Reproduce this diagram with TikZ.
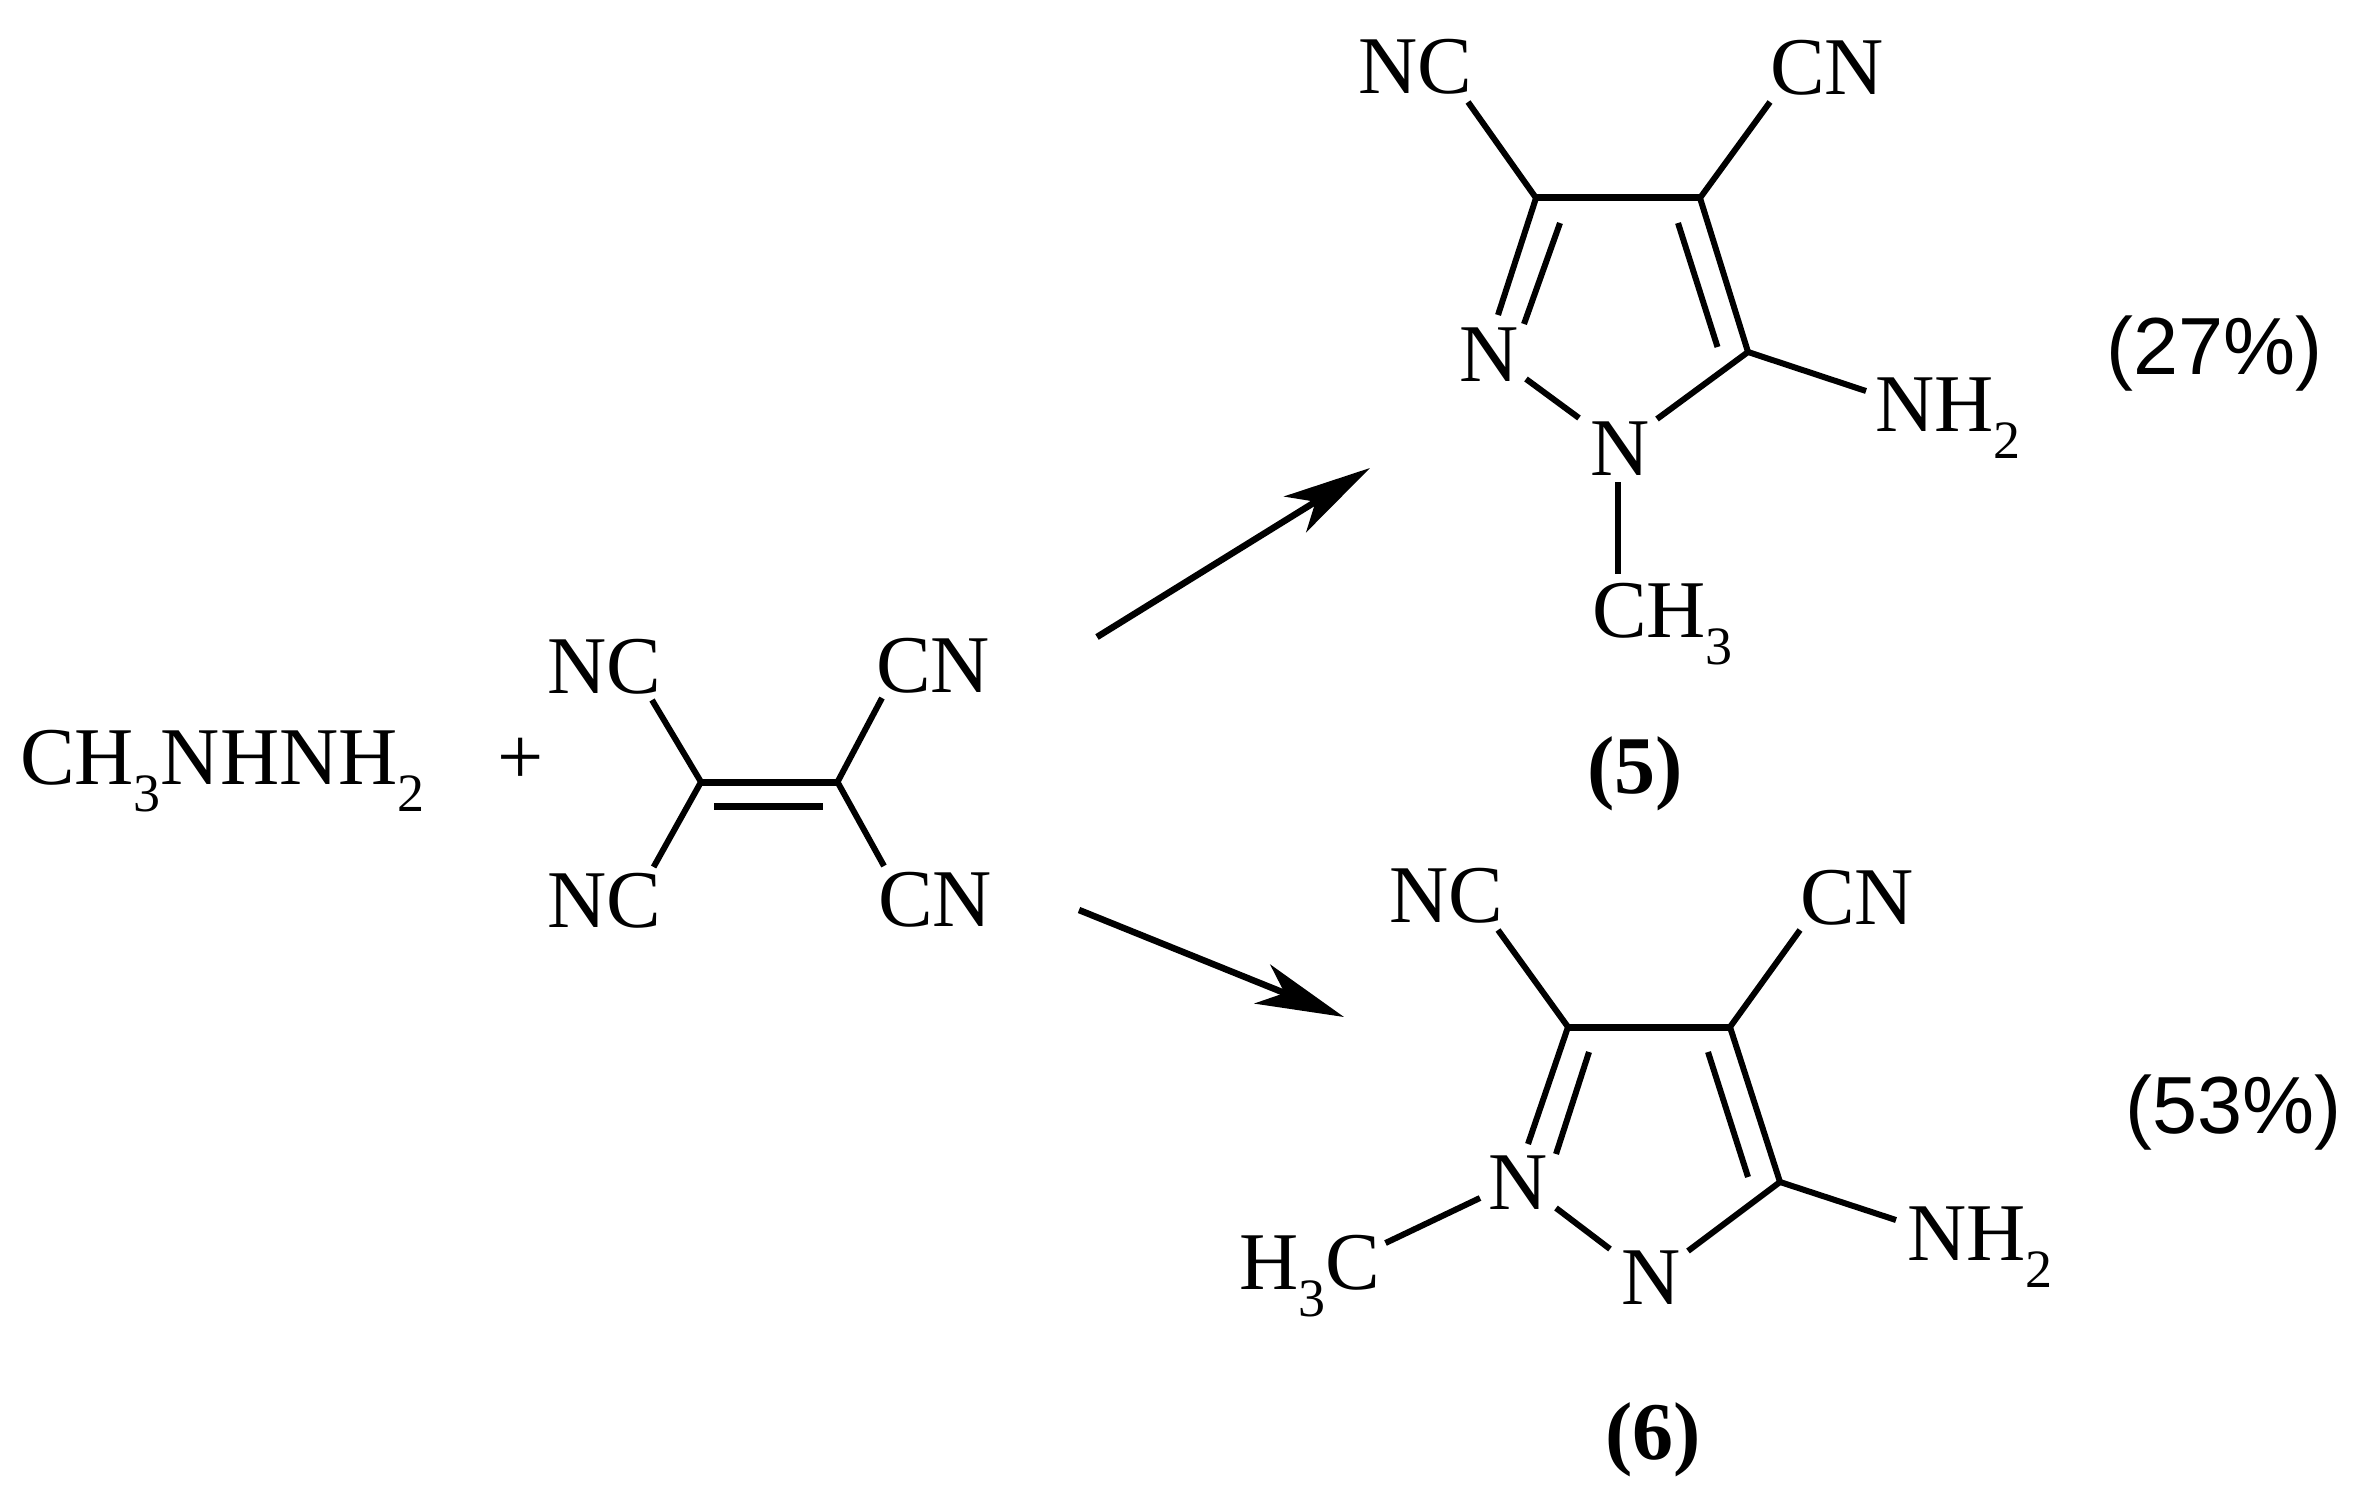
\documentclass[tikz,border=0pt]{standalone}
\usepackage{fontspec}
\setmainfont{Liberation Serif}
\newfontfamily\pctfont{Liberation Sans}
\usetikzlibrary{arrows.meta}
\newcommand{\lowsub}[1]{\raisebox{-27pt}{\fontsize{54}{54}\selectfont #1}}
\tikzset{
  atomlabel/.style={anchor=base west,inner sep=0pt,outer sep=0pt,font=\fontsize{82}{82}\selectfont},
  yieldlabel/.style={anchor=base west,inner sep=0pt,outer sep=0pt,font=\fontsize{81}{81}\selectfont\pctfont},
  compoundlabel/.style={anchor=base west,inner sep=0pt,outer sep=0pt,font=\fontsize{82}{82}\selectfont\bfseries},
  bond/.style={line width=6pt,line cap=butt,line join=miter},
  heavybond/.style={line width=7pt,line cap=butt},
  reaction/.style={line width=6.5pt,-{Stealth[length=88pt,width=42pt,inset=24pt]}}
}
\begin{document}
\begin{tikzpicture}[x=1pt,y=-1pt]
\useasboundingbox (0,0) rectangle (2373,1495);
% reactants
\node[atomlabel] (hyd) at (20,784) {CH\lowsub{3}NHNH\lowsub{2}};
\node[atomlabel] (plus) at (497,784) {+};
\node[atomlabel] (tnc1) at (547,693) {NC};
\node[atomlabel] (tcn1) at (876,692) {CN};
\node[atomlabel] (tnc2) at (547,927) {NC};
\node[atomlabel] (tcn2) at (878,926) {CN};
\coordinate (ta) at (701,782);
\coordinate (tb) at (837.5,782);
\coordinate (tai) at (714,806);
\coordinate (tbi) at (823,806);
\coordinate (e1) at (652,700);
\coordinate (e2) at (882,698);
\coordinate (e3) at (653.6,867);
\coordinate (e4) at (884,866);
\draw[bond] (e1) -- (ta) -- (e3);
\draw[bond] (e2) -- (tb) -- (e4);
\draw[heavybond] (ta) -- (tb);
\draw[heavybond] (tai) -- (tbi);
% arrows
\coordinate (a1s) at (1097,637);
\coordinate (a1t) at (1370,468);
\coordinate (a2s) at (1079,910);
\coordinate (a2t) at (1344,1017);
\draw[reaction] (a1s) -- (a1t);
\draw[reaction] (a2s) -- (a2t);
% product 5
\node[atomlabel] (pnc) at (1358,93.5) {NC};
\node[atomlabel] (pcn) at (1770,95) {CN};
\node[atomlabel] (pn2) at (1459,381) {N};
\node[atomlabel] (pn1) at (1590,475) {N};
\node[atomlabel] (pnh) at (1875,431) {NH\lowsub{2}};
\node[atomlabel] (pch) at (1592,637) {CH\lowsub{3}};
\node[yieldlabel] (py) at (2106,374) {(27\%)};
\node[compoundlabel] (pl) at (1587,793) {(5)};
\coordinate (c3) at (1536,198);
\coordinate (c4) at (1700,198);
\coordinate (c5) at (1748,352);
\coordinate (b1) at (1468,102);
\coordinate (b2) at (1770,102);
\coordinate (b3) at (1498,315);
\coordinate (b3a) at (1560,223);
\coordinate (b3b) at (1524,324);
\coordinate (b4a) at (1678,223);
\coordinate (b4b) at (1717.5,347);
\coordinate (b5) at (1866,391);
\coordinate (b6) at (1657,419);
\coordinate (b7a) at (1526,379);
\coordinate (b7b) at (1579,418);
\coordinate (b8a) at (1618,482);
\coordinate (b8b) at (1618,574);
\draw[bond] (b1) -- (c3);
\draw[bond] (b2) -- (c4);
\draw[heavybond] (c3) -- (c4);
\draw[bond] (c3) -- (b3);
\draw[bond] (b3a) -- (b3b);
\draw[bond] (c4) -- (c5);
\draw[bond] (b4a) -- (b4b);
\draw[bond] (c5) -- (b5);
\draw[bond] (c5) -- (b6);
\draw[bond] (b7a) -- (b7b);
\draw[bond] (b8a) -- (b8b);
% product 6
\node[atomlabel] (qnc) at (1389,922) {NC};
\node[atomlabel] (qcn) at (1800,924) {CN};
\node[atomlabel] (qn1) at (1488,1209) {N};
\node[atomlabel] (qn2) at (1621,1304) {N};
\node[atomlabel] (qnh) at (1907,1260) {NH\lowsub{2}};
\node[atomlabel] (qch) at (1239,1289) {H\lowsub{3}C};
\node[yieldlabel] (qy) at (2125,1133) {(53\%)};
\node[compoundlabel] (ql) at (1605,1459) {(6)};
\coordinate (d3) at (1568,1027);
\coordinate (d4) at (1730,1027);
\coordinate (d5) at (1780,1182);
\coordinate (g1) at (1498,930);
\coordinate (g2) at (1800,930);
\coordinate (g3) at (1528,1144);
\coordinate (g3a) at (1589,1052);
\coordinate (g3b) at (1556,1154);
\coordinate (g4a) at (1708,1052);
\coordinate (g4b) at (1748,1177);
\coordinate (g5) at (1896,1220);
\coordinate (g6) at (1688,1251);
\coordinate (g7a) at (1556,1208);
\coordinate (g7b) at (1610,1249);
\coordinate (g8a) at (1480,1198);
\coordinate (g8b) at (1385.5,1243);
\draw[bond] (g1) -- (d3);
\draw[bond] (g2) -- (d4);
\draw[heavybond] (d3) -- (d4);
\draw[bond] (d3) -- (g3);
\draw[bond] (g3a) -- (g3b);
\draw[bond] (d4) -- (d5);
\draw[bond] (g4a) -- (g4b);
\draw[bond] (d5) -- (g5);
\draw[bond] (d5) -- (g6);
\draw[bond] (g7a) -- (g7b);
\draw[bond] (g8a) -- (g8b);
\end{tikzpicture}
\end{document}
